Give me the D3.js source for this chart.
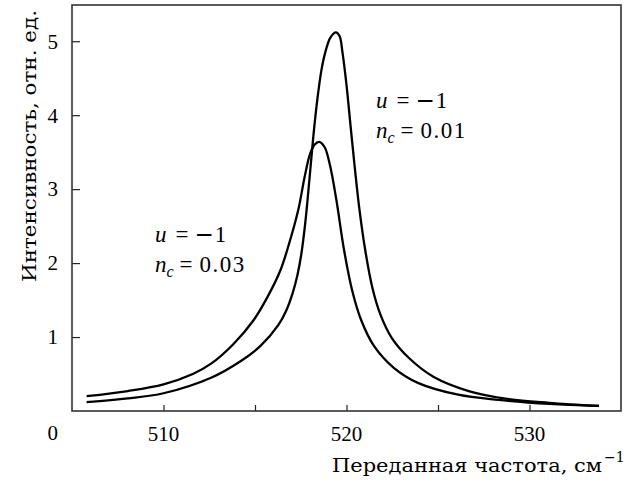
<!DOCTYPE html>
<html>
<head>
<meta charset="utf-8">
<script src="https://cdn.jsdelivr.net/npm/d3@7"></script>
<style>
  body { margin: 0; background: #fff; }
  text { font-family: "Liberation Serif", "DejaVu Serif", serif; fill: #000; }
  .title { font-family: "DejaVu Serif", serif; }
</style>
</head>
<body>
<div id="chartID"></div>
<script>
// Data (frequency in cm^-1, intensity in a.u.)
// n_c = 0.01, tall narrow peak
var freqNarrow = [505.8, 508.05, 510.0, 512.6, 514.25, 515.3, 516.27, 516.71, 517.04, 517.32, 517.53, 517.75,
                  517.97, 518.19, 518.41, 518.63, 518.85, 519.12, 519.42, 519.62, 519.78, 520.0, 520.22, 520.44,
                  520.71, 521.04, 521.42, 521.86, 522.47, 523.4, 524.77, 526.68, 528.88, 531.07, 533.8];
var intNarrow  = [0.12, 0.17, 0.24, 0.45, 0.68, 0.88, 1.16, 1.36, 1.58, 1.84, 2.12, 2.55,
                  3.12, 3.72, 4.22, 4.61, 4.86, 5.05, 5.12, 5.07, 4.85, 4.41, 3.86, 3.32,
                  2.72, 2.15, 1.66, 1.30, 0.99, 0.72, 0.46, 0.27, 0.16, 0.11, 0.068];
// n_c = 0.03, lower broad peak
var freqBroad = [505.8, 508.05, 510.0, 511.6, 512.6, 513.8, 514.9, 515.7, 516.4, 517.0, 517.4, 517.7,
                 518.0, 518.25, 518.5, 518.8, 519.1, 519.45, 519.85, 520.3, 520.8, 521.5, 522.6, 523.9,
                 526.1, 528.3, 531.1, 533.8];
var intBroad  = [0.20, 0.27, 0.36, 0.50, 0.64, 0.90, 1.22, 1.55, 1.91, 2.38, 2.76, 3.15,
                 3.47, 3.60, 3.64, 3.57, 3.32, 2.85, 2.20, 1.64, 1.23, 0.88, 0.58, 0.38,
                 0.22, 0.15, 0.095, 0.068];

var xTicks = [510, 515, 520, 525, 530];
var xTickLabels = [510, 520, 530];
var yTicks = [1, 2, 3, 4, 5];

function makeChart() {
    let width = 637;
    let height = 482;
    let margin = {top: 5, right: 16, bottom: 71, left: 72}; //box edges

    let svg = d3.select("#chartID")
                .append("svg")
                .attr("width", width)
                .attr("height", height);

    let x = d3.scaleLinear()
              .domain([505, 535])
              .range([margin.left, width - margin.right]);
    let y = d3.scaleLinear()
              .domain([0, 5.49])
              .range([height - margin.bottom, margin.top]);

    //ticks point inwards, labels are drawn separately
    svg.append("g")
       .attr("transform", "translate(0," + (height - margin.bottom) + ")")
       .call(d3.axisTop(x).tickValues(xTicks).tickSize(6).tickFormat(""))
       .call(g => g.select(".domain").remove())
       .selectAll("line").attr("stroke", "#222").attr("stroke-width", 1.2);
    svg.append("g")
       .attr("transform", "translate(" + margin.left + ",0)")
       .call(d3.axisRight(y).tickValues(yTicks).tickSize(8).tickFormat(""))
       .call(g => g.select(".domain").remove())
       .selectAll("line").attr("stroke", "#222").attr("stroke-width", 1.2);

    //frame
    svg.append("rect")
       .attr("x", margin.left)
       .attr("y", margin.top)
       .attr("width", width - margin.left - margin.right)
       .attr("height", height - margin.top - margin.bottom)
       .attr("fill", "none")
       .attr("stroke", "#333")
       .attr("stroke-width", 1.6);

    //tick labels
    svg.append("g").selectAll("text")
       .data(xTickLabels)
       .join("text")
       .attr("x", d => x(d))
       .attr("y", 441)
       .attr("text-anchor", "middle")
       .style("font-size", "21px")
       .text(d => d);
    svg.append("g").selectAll("text")
       .data(yTicks)
       .join("text")
       .attr("x", 58)
       .attr("y", d => y(d))
       .attr("dy", "0.35em")
       .attr("text-anchor", "end")
       .style("font-size", "21px")
       .text(d => d);
    svg.append("text")
       .attr("x", 58)
       .attr("y", 440)
       .attr("text-anchor", "end")
       .style("font-size", "21px")
       .text("0");

    //axis titles, stretched to the width they take in the picture
    svg.append("text")
       .attr("class", "title")
       .attr("x", 332)
       .attr("y", 472)
       .attr("textLength", 270)
       .attr("lengthAdjust", "spacingAndGlyphs")
       .style("font-size", "19px")
       .text("Переданная частота, см");
    svg.append("text")
       .attr("class", "title")
       .attr("x", 604)
       .attr("y", 462)
       .style("font-size", "14px")
       .text("\u22121");

    svg.append("text")
       .attr("class", "title")
       .attr("transform", "translate(36,282) rotate(-90)")
       .attr("textLength", 272)
       .attr("lengthAdjust", "spacingAndGlyphs")
       .style("font-size", "19px")
       .text("Интенсивность, отн. ед.");

    //curves
    let line = d3.line()
                 .x(d => x(d[0]))
                 .y(d => y(d[1]))
                 .curve(d3.curveCatmullRom.alpha(0.5));
    drawCurve(svg, line, d3.zip(freqBroad, intBroad));
    drawCurve(svg, line, d3.zip(freqNarrow, intNarrow));

    //annotations
    drawNote(svg, 155, 242, "0.03");
    drawNote(svg, 376, 108, "0.01");
}

/*drawCurve: draws one spectrum as a black line
*/
function drawCurve(svg, line, points) {
    svg.append("path")
       .datum(points)
       .attr("fill", "none")
       .attr("stroke", "#000")
       .attr("stroke-width", 2.3)
       .attr("d", line);
}

/*drawNote: writes the two lines "u = -1" and "n_c = value"
*Note: the dx gaps mimic the TeX spacing round "="
*/
function drawNote(svg, x0, y0, value) {
    let t1 = svg.append("text")
                .attr("x", x0)
                .attr("y", y0)
                .style("font-size", "23px");
    t1.append("tspan").style("font-style", "italic").text("u");
    t1.append("tspan").attr("dx", 9).text("=");
    t1.append("tspan").attr("dx", 6).style("font-family", "DejaVu Sans").text("\u2212");
    t1.append("tspan").attr("dx", 1).text("1");

    let t2 = svg.append("text")
                .attr("x", x0)
                .attr("y", y0 + 30)
                .style("font-size", "23px");
    t2.append("tspan").style("font-style", "italic").text("n");
    t2.append("tspan").attr("dy", 5).style("font-size", "16px").style("font-style", "italic").text("c");
    t2.append("tspan").attr("dy", -5).attr("dx", 6).text("=");
    t2.append("tspan").attr("dx", 7).style("letter-spacing", "1.5px").text(value);
}

makeChart();
</script>
</body>
</html>
